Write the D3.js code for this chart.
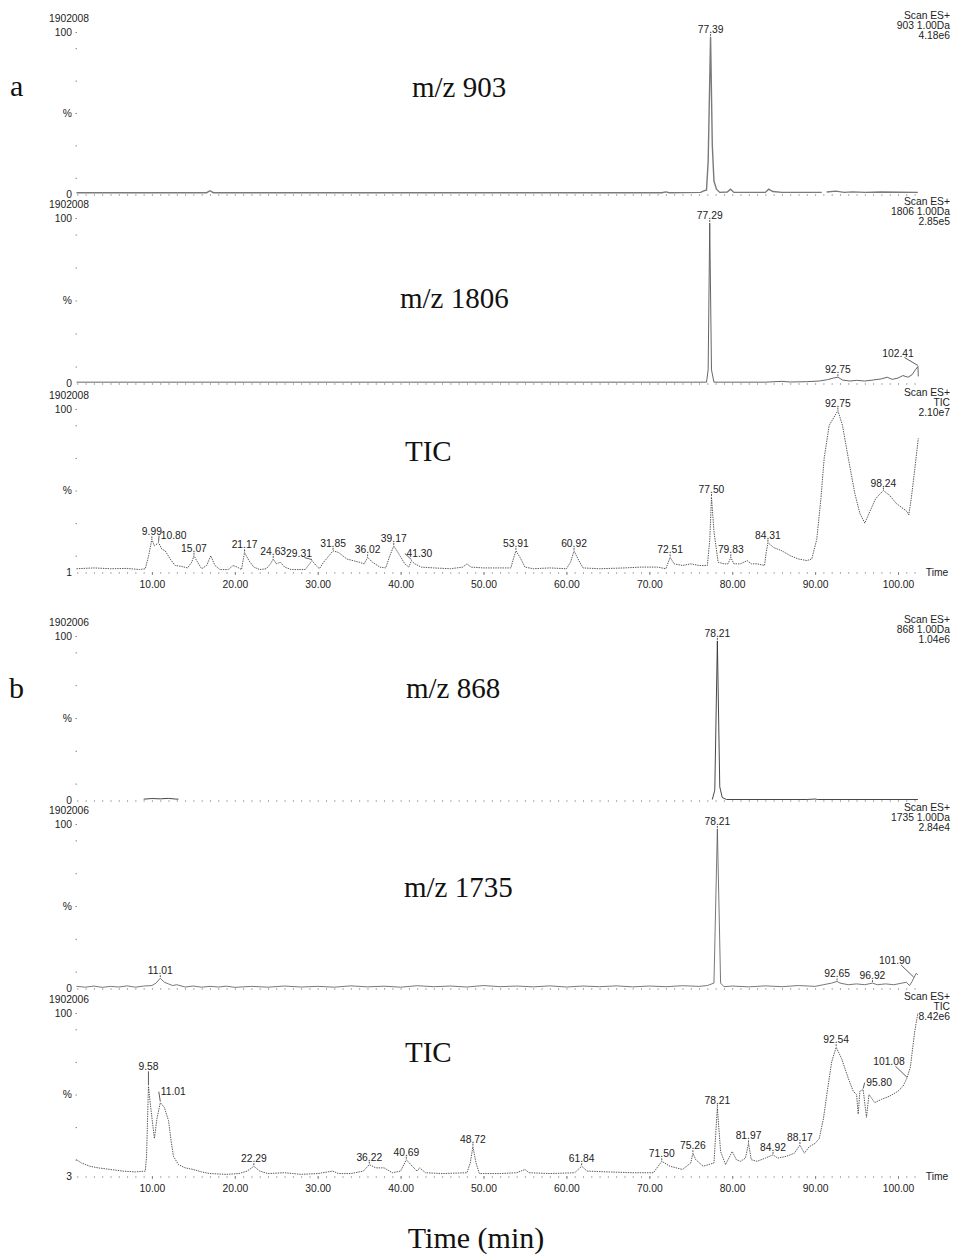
<!DOCTYPE html>
<html>
<head>
<meta charset="utf-8">
<script src="https://cdn.jsdelivr.net/npm/d3@7"></script>
<style>
  body { margin: 0; background: #fff; }
  svg { display: block; font-family: "Liberation Sans", Arial, sans-serif; }
</style>
</head>
<body>
<svg id="chart" width="953" height="1255"></svg>
<script>
// ---------- values ----------
const timeTicks = [10, 20, 30, 40, 50, 60, 70, 80, 90, 100];
const runIds = ["1902008", "1902008", "1902008", "1902006", "1902006", "1902006"];
const scanHeaders = [
  ["Scan ES+", "903 1.00Da", "4.18e6"],
  ["Scan ES+", "1806 1.00Da", "2.85e5"],
  ["Scan ES+", "TIC", "2.10e7"],
  ["Scan ES+", "868 1.00Da", "1.04e6"],
  ["Scan ES+", "1735 1.00Da", "2.84e4"],
  ["Scan ES+", "TIC", "8.42e6"]
];
const traceNames = ["m/z 903", "m/z 1806", "TIC", "m/z 868", "m/z 1735", "TIC"];
const yMinLabels = ["0", "0", "1", "0", "0", "3"];

// [time (min), relative intensity %]; null = gap in the trace
const traceA903 = [[0.9, 0.8], [16.6, 0.8], [17, 2], [17.4, 0.8], [71.5, 0.8], [72, 1.3], [72.4, 0.8],
  [76.2, 1], [76.5, 1.8], [76.9, 2.5], [77.1, 20], [77.39, 97], [77.6, 30], [77.8, 8], [78.1, 3], [78.5, 1],
  [79.4, 1.2], [79.8, 3], [80.2, 1], [84, 1], [84.4, 3], [84.9, 1.5], [86, 1], [90.8, 1], [91, null],
  [91.4, 1.2], [92.5, 1.8], [93.5, 1], [94.5, 1.3], [96, 1], [98, 1.2], [102.4, 1]];

const traceA1806 = [[0.9, 0.5], [76.9, 0.5], [77.1, 8], [77.29, 97], [77.5, 8], [77.8, 0.5], [84, 0.5],
  [86, 1], [87, 0.6], [89, 0.8], [90.5, 1.2], [91.5, 2], [92.2, 3], [92.75, 3.5], [93.3, 1.8], [94.2, 1.2],
  [95, 1.6], [96, 1.2], [97, 1.8], [98, 2.5], [98.7, 3.5], [99.3, 2.2], [100, 3], [100.6, 4.5], [101.2, 3.5],
  [101.7, 5], [102.1, 8], [102.41, 10], [102.45, 4]];

const traceATic = [[0.9, 2], [3, 2.5], [5, 2], [7, 2.2], [8.5, 1.5], [9.2, 2], [9.6, 10], [9.99, 20],
  [10.3, 16], [10.8, 18], [11.2, 14], [11.6, 13], [12.2, 8], [12.8, 4], [13.5, 3.5], [14.3, 2.5], [14.8, 6],
  [15.07, 10], [15.5, 6], [16, 2], [16.6, 4], [17.1, 10], [17.6, 4], [18.2, 1.5], [19.2, 1.5], [19.8, 4],
  [20.3, 3], [20.8, 1.5], [21.17, 12], [21.7, 7], [22.3, 3], [23, 1.5], [23.8, 2], [24.3, 5], [24.63, 8],
  [25, 5], [25.5, 6], [26, 3], [26.8, 1.5], [28.5, 1.5], [29.31, 7], [29.8, 4], [30.2, 2], [30.7, 6],
  [31.2, 9], [31.85, 13], [32.5, 12], [33.5, 8], [35, 6], [35.6, 5], [36.02, 9], [36.6, 6], [37.5, 3],
  [38.2, 2.5], [38.7, 10], [39.17, 16], [39.8, 11], [40.5, 5], [41, 3], [41.3, 7], [41.7, 5], [42.5, 3],
  [44, 2.5], [46, 2], [47.5, 3], [48, 5], [48.5, 3], [50, 2.5], [52, 2.5], [53.3, 2.5], [53.6, 8],
  [53.91, 13], [54.4, 9], [55, 3], [56, 2], [58, 2.5], [60, 2], [60.5, 6], [60.92, 13], [61.4, 8], [62, 2.5],
  [64, 2], [67, 2.5], [69, 3], [71, 3], [72, 2], [72.51, 9], [73, 5], [74, 4], [75, 5], [76, 4], [77, 4],
  [77.3, 20], [77.5, 46], [77.8, 25], [78.3, 6], [79, 5], [79.5, 5], [79.83, 9], [80.2, 5], [81, 5],
  [81.8, 7], [82.3, 5], [83, 5], [83.9, 4], [84.1, 12], [84.31, 18], [85, 15], [86, 13], [87, 10], [88, 8],
  [89, 7], [89.6, 8], [90.2, 20], [90.7, 45], [91.1, 70], [91.7, 90], [92.75, 99], [93.3, 90], [94, 70],
  [94.8, 48], [95.4, 36], [96, 30], [96.6, 37], [97.3, 45], [98.24, 50], [99, 47], [99.8, 42], [100.6, 39],
  [101.1, 37], [101.3, 35], [101.6, 45], [102, 62], [102.45, 82]];

const traceB868 = [[9, 0.5], [10, 0.9], [11, 0.7], [12, 1], [12.8, 0.6], [13.2, 0.5], [13.3, null],
  [77.6, 0.3], [77.9, 6], [78.21, 97], [78.5, 8], [78.8, 1.5], [79.3, 0.3], [89, 0.3], [90, 0.6],
  [90.3, 0.3], [102.4, 0.3]];

const traceB1735 = [[0.9, 1], [2, 0.5], [3, 1.2], [4, 0.4], [5, 1], [6, 0.6], [7, 1.3], [8, 0.5], [9, 1.2],
  [10, 1.5], [10.5, 3], [11.01, 6], [11.5, 3.5], [12, 2.5], [12.5, 1.5], [13, 2], [14, 0.6], [15, 1.2],
  [16, 0.5], [17, 1], [18, 0.6], [19, 1.1], [20, 0.4], [22, 1], [24, 0.5], [26, 1.2], [28, 0.6], [30, 1],
  [32, 0.5], [34, 1.3], [36, 0.7], [38, 1.1], [40, 0.5], [42, 1.4], [44, 0.8], [46, 1.2], [48, 0.6],
  [50, 1.5], [52, 0.8], [54, 1.2], [56, 0.7], [58, 1.3], [60, 0.6], [62, 1.2], [64, 0.8], [66, 1.3],
  [68, 0.7], [70, 1.2], [72, 0.8], [74, 1.4], [76, 1], [77, 1.5], [77.8, 3], [78.21, 97], [78.6, 3],
  [79, 0.8], [80, 1.2], [82, 0.7], [84, 1.3], [86, 0.8], [88, 1.5], [90, 1], [91, 2], [92, 3], [92.65, 4],
  [93, 3], [94, 2], [95, 2.5], [96, 2], [96.92, 3], [97.5, 2], [98.5, 2.5], [99.5, 2], [100.5, 3],
  [101, 3.5], [101.4, 1.5], [101.7, 4], [101.9, 6], [102.2, 9], [102.4, 8]];

const traceBTic = [[0.9, 10], [1.5, 8], [2.5, 6], [3.5, 5], [5, 4], [6.5, 3], [8, 2.5], [9.2, 3], [9.35, 12],
  [9.58, 55], [9.9, 40], [10.3, 23], [10.6, 35], [11.01, 45], [11.5, 42], [12, 34], [12.3, 22], [12.6, 12],
  [13.2, 7], [14, 5], [15, 4], [16, 2.5], [17, 1.5], [19, 1], [20.5, 1.5], [21.5, 3], [22.29, 6], [23, 3],
  [24, 1.5], [26, 2], [27, 1.5], [28, 1], [30, 1.5], [31.8, 3], [32.5, 1.5], [34, 1.5], [35.5, 3],
  [36.22, 7], [37, 5], [38, 5], [39, 2], [40, 3], [40.69, 10], [41.4, 6], [42, 3], [42.3, 5], [43, 2],
  [45, 1.5], [48, 2], [48.4, 8], [48.72, 18], [49.1, 8], [49.5, 1.5], [52, 1.5], [54, 2], [55, 4],
  [55.5, 2], [58, 1.5], [61, 2], [61.84, 6], [62.5, 3], [65, 2.5], [68, 2], [70.5, 2], [71.5, 9],
  [72.5, 6], [74, 4], [75, 8], [75.26, 14], [75.6, 10], [76.5, 6], [77.8, 8], [78.21, 42], [78.6, 15],
  [79.2, 7], [80, 15], [80.5, 10], [81, 9], [81.6, 11], [81.97, 20], [82.3, 10], [83, 9], [84, 11],
  [84.92, 13], [85.5, 11], [86.5, 12], [87.5, 14], [88.17, 19], [88.7, 14], [89.3, 18], [90, 20],
  [90.5, 23], [91, 35], [91.5, 53], [92, 70], [92.54, 79], [93.2, 72], [94, 60], [94.6, 52], [95, 50],
  [95.2, 38], [95.4, 52], [95.8, 53], [96.2, 36], [96.5, 50], [97.2, 45], [98, 47], [99, 49], [100, 52],
  [100.6, 55], [101.08, 60], [101.5, 67], [102, 88], [102.4, 100]];

// labelled peak times per panel
const peaksA903 = [77.39];
const peaksA1806 = [77.29, 92.75, 102.41];
const peaksATic = [9.99, 10.80, 15.07, 21.17, 24.63, 29.31, 31.85, 36.02, 39.17, 41.30, 53.91, 60.92,
  72.51, 77.50, 79.83, 84.31, 92.75, 98.24];
const peaksB868 = [78.21];
const peaksB1735 = [11.01, 78.21, 92.65, 96.92, 101.90];
const peaksBTic = [9.58, 11.01, 22.29, 36.22, 40.69, 48.72, 61.84, 71.50, 75.26, 78.21, 81.97, 84.92,
  88.17, 92.54, 95.80, 101.08];

// ---------- layout ----------
const traces = [traceA903, traceA1806, traceATic, traceB868, traceB1735, traceBTic];
const peaks = [peaksA903, peaksA1806, peaksATic, peaksB868, peaksB1735, peaksBTic];

const panels = [
  { top: 32, bottom: 194, nameX: 412, nameY: 97, stroke: "#7a7a7a", width: 1.4, dash: null, timeAxis: false },
  { top: 218, bottom: 383, nameX: 400, nameY: 308, stroke: "#555", width: 0.9, dash: null, timeAxis: false },
  { top: 409, bottom: 572, nameX: 405, nameY: 461, stroke: "#444", width: 0.9, dash: "1.4 1", timeAxis: true },
  { top: 636, bottom: 800, nameX: 406, nameY: 698, stroke: "#333", width: 0.9, dash: null, timeAxis: false },
  { top: 824, bottom: 988, nameX: 404, nameY: 897, stroke: "#555", width: 0.8, dash: null, timeAxis: false },
  { top: 1013, bottom: 1176, nameX: 405, nameY: 1062, stroke: "#444", width: 0.9, dash: "1.4 1", timeAxis: true }
];

// label nudges [dx, dy] for peak labels that sit off the peak
const labelNudges = [
  {},
  { "102.41": [-20, -6] },
  { "10.80": [15, 0], "29.31": [-13, 0], "41.30": [8, 0] },
  {},
  { "101.90": [-19, -10] },
  { "9.58": [0, -12], "11.01": [13, -4], "95.80": [16, 0], "101.08": [-18, -9] }
];

const svg = d3.select("#chart");
const SMALL = 10.3;
const serif = "'Liberation Serif', 'Times New Roman', serif";

const x = d3.scaleLinear().domain([0.9, 102.45]).range([76.5, 918.3]);

panels.forEach((p, i) => {
  const y = d3.scaleLinear().domain([0, 100]).range([p.bottom, p.top]);
  const g = svg.append("g");

  // Minor time ticks along the baseline (dotted look)
  const minor = g.append("g")
    .attr("transform", `translate(0, ${p.bottom})`)
    .call(d3.axisBottom(x).tickValues(d3.range(1, 103, 1)).tickSize(2).tickFormat(""));
  minor.select(".domain").remove();
  minor.selectAll(".tick line").attr("stroke", "#999").attr("stroke-width", 0.8);

  // Labelled time axis on TIC panels
  if (p.timeAxis) {
    const axis = g.append("g")
      .attr("transform", `translate(0, ${p.bottom})`)
      .call(d3.axisBottom(x).tickValues(timeTicks).tickSize(3).tickPadding(6)
        .tickFormat((d) => d.toFixed(2)));
    axis.select(".domain").remove();
    axis.selectAll(".tick line").attr("stroke", "#888");
    axis.selectAll("text").attr("font-size", SMALL).attr("fill", "#222").attr("font-family", null);
    g.append("text").text("Time")
      .attr("x", 937).attr("y", p.bottom + 4)
      .attr("text-anchor", "middle").attr("font-size", SMALL).attr("fill", "#222");
  }

  // Y axis: dotted ticks only
  const yAxis = g.append("g")
    .attr("transform", "translate(77, 0)")
    .call(d3.axisLeft(y).tickValues([10, 30, 50, 70, 90, 100]).tickSize(1.5).tickFormat(""));
  yAxis.select(".domain").remove();
  yAxis.selectAll(".tick line").attr("stroke", "#888");

  const yLabels = [["100", 100], ["%", 50], [yMinLabels[i], 0]];
  g.selectAll(".ylab").data(yLabels).enter().append("text")
    .attr("class", "ylab")
    .text((d) => d[0])
    .attr("x", 72).attr("y", (d) => y(d[1]) + 3.5)
    .attr("text-anchor", "end").attr("font-size", SMALL).attr("fill", "#222");

  // Run id above the axis, scan header on the right
  g.append("text").text(runIds[i])
    .attr("x", 69).attr("y", p.top - 10)
    .attr("text-anchor", "middle").attr("font-size", SMALL).attr("fill", "#222");
  g.selectAll(".hdr").data(scanHeaders[i]).enter().append("text")
    .attr("class", "hdr")
    .text((d) => d)
    .attr("x", 950).attr("y", (d, k) => p.top - 13 + k * 10)
    .attr("text-anchor", "end").attr("font-size", SMALL).attr("fill", "#222");

  // Trace name (serif, large)
  g.append("text").text(traceNames[i])
    .attr("x", p.nameX).attr("y", p.nameY)
    .attr("font-family", serif)
    .attr("font-size", 29).attr("fill", "#111");

  // Chromatogram trace
  const line = d3.line()
    .defined((d) => d[1] !== null)
    .x((d) => x(d[0]))
    .y((d) => y(d[1]));
  g.append("path")
    .datum(traces[i])
    .attr("d", line)
    .attr("fill", "none")
    .attr("stroke", p.stroke)
    .attr("stroke-width", p.width)
    .attr("stroke-dasharray", p.dash);

  // Peak labels with leader lines
  const pts = traces[i].filter((d) => d[1] !== null);
  peaks[i].forEach((t) => {
    const txt = t.toFixed(2);
    const pt = pts.reduce((a, b) => (Math.abs(b[0] - t) < Math.abs(a[0] - t) ? b : a));
    const px = x(t);
    const py = y(pt[1]);
    const [dx, dy] = labelNudges[i][txt] || [0, 0];
    const lx = px + dx;
    const ly = py - 4 + dy;
    const half = txt.length * 2.7;
    if (dx === 0) {
      if (ly + 1 < py - 1) {
        g.append("line").attr("x1", px).attr("x2", px).attr("y1", py - 1).attr("y2", ly + 1)
          .attr("stroke", "#333").attr("stroke-width", 0.8);
      }
    } else {
      const ex = dx > 0 ? lx - half - 1 : lx + half * 0.4;
      g.append("line").attr("x1", px).attr("y1", py - 1).attr("x2", ex).attr("y2", ly - (dx > 0 ? 3 : -1))
        .attr("stroke", "#333").attr("stroke-width", 0.8);
    }
    g.append("text").text(txt)
      .attr("x", lx).attr("y", ly)
      .attr("text-anchor", "middle").attr("font-size", SMALL).attr("fill", "#222");
  });
});

// Figure part letters and global axis title
svg.append("text").text("a").attr("x", 10).attr("y", 96)
  .attr("font-family", serif).attr("font-size", 30).attr("fill", "#111");
svg.append("text").text("b").attr("x", 9).attr("y", 698)
  .attr("font-family", serif).attr("font-size", 30).attr("fill", "#111");
svg.append("text").text("Time (min)").attr("x", 476).attr("y", 1248)
  .attr("text-anchor", "middle")
  .attr("font-family", serif).attr("font-size", 30).attr("fill", "#111");
</script>
</body>
</html>
